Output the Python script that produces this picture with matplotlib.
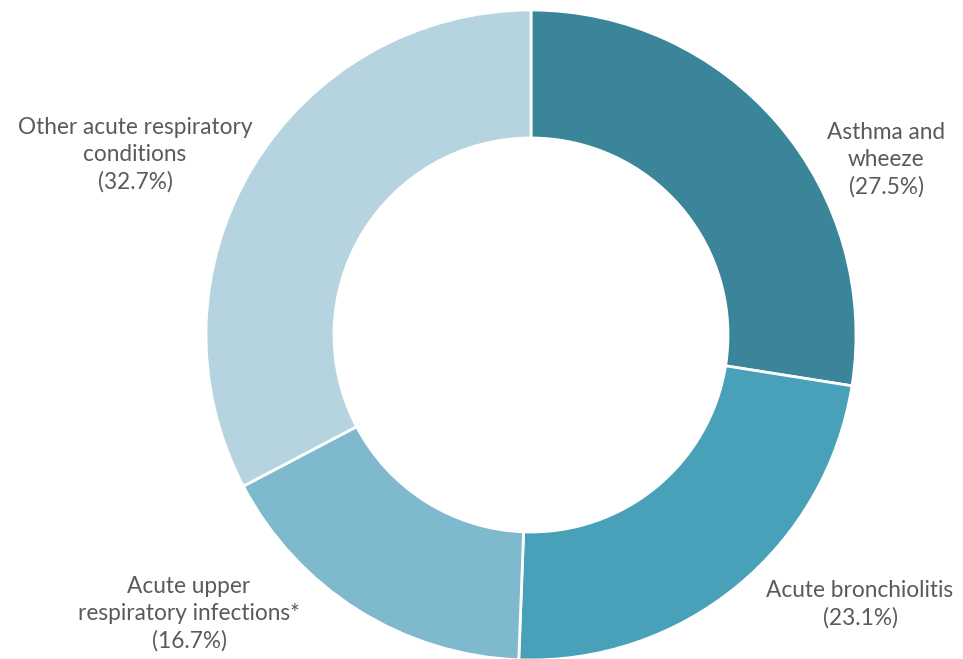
import matplotlib
matplotlib.use("Agg")
import matplotlib.pyplot as plt

# Share of acute respiratory presentations, by condition
categories = ["Asthma and\nwheeze", "Acute bronchiolitis",
              "Acute upper\nrespiratory infections*",
              "Other acute respiratory\nconditions"]
shares = [27.5, 23.1, 16.7, 32.7]
colors = ["#3A8599", "#48A1B8", "#7FB9CE", "#B6D4DF"]

W, H = 963, 659
fig = plt.figure(figsize=(W / 100, H / 100), dpi=100)
ax = fig.add_axes([0, 0, 1, 1])

cx, cy, r_out, r_in = 531, H - 335, 325, 197
ax.pie(shares, colors=colors, startangle=90, counterclock=False,
       center=(cx, cy), radius=r_out, frame=True,
       wedgeprops=dict(width=r_out - r_in, edgecolor="white", linewidth=2))
ax.set_xlim(0, W); ax.set_ylim(0, H); ax.axis("off")
ax.set_aspect("equal")

# label anchors (centre of text block), in pixel coords from the top
label_pos = [(886, 160), (860, 604), (189, 614), (135, 155)]
for name, val, (lx, ly) in zip(categories, shares, label_pos):
    ax.text(lx, H - ly, f"{name}\n({val}%)", ha="center", va="center",
            fontsize=16.3, family="Lato", color="#5A5A5A", linespacing=1.34)

fig.savefig("out.png", dpi=100, facecolor="white")
